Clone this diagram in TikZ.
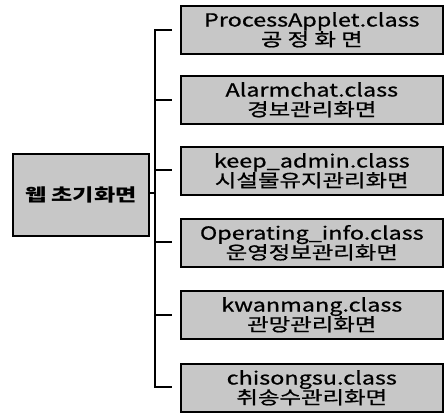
\documentclass[tikz,border=0pt]{standalone}
\usepackage{fontspec}
\setmainfont{Noto Sans CJK KR}
\newfontfamily\widefont[FakeStretch=1.3,FakeBold=0.8]{Noto Sans CJK KR}
\newfontfamily\widebold[FakeStretch=1.32]{Noto Sans CJK KR}
\begin{document}
\begin{tikzpicture}[x=1pt,y=-1pt,
  cls/.style={draw=black,line width=1.6pt,fill=black!22,minimum width=262pt,minimum height=48pt,inner sep=0pt,align=center,font=\widefont\fontsize{18}{19.5}\selectfont,anchor=north west},
  root/.style={draw=black,line width=1.6pt,fill=black!22,minimum width=136pt,minimum height=82pt,inner sep=0pt,align=center,font=\widebold\bfseries\fontsize{17.5}{20}\selectfont,anchor=north west},
  conn/.style={line width=1.6pt}]
\useasboundingbox (0,0) rectangle (444,413);
\node[root] (r) at (12,153) {웹 초기화면};
\node[cls] (b1) at (180,5) {ProcessApplet.class\\공 정 화 면};
\node[cls] (b2) at (180,75) {Alarmchat.class\\경보관리화면};
\node[cls] (b3) at (180,146) {keep\_admin.class\\시설물유지관리화면};
\node[cls] (b4) at (180,218) {Operating\_info.class\\운영정보관리화면};
\node[cls] (b5) at (180,290) {kwanmang.class\\관망관리화면};
\node[cls] (b6) at (180,363) {chisongsu.class\\취송수관리화면};
\coordinate (t1) at (155,30);
\coordinate (t6) at (155,387);
\coordinate (j) at (155,193);
\draw[conn] (r.east |- j) -- (j);
\draw[conn] (172,30) -- (t1) -- (t6) -- (172,387);
\foreach \y in {100,170,242,315} \draw[conn] (155,\y) -- (172,\y);
\end{tikzpicture}
\end{document}
